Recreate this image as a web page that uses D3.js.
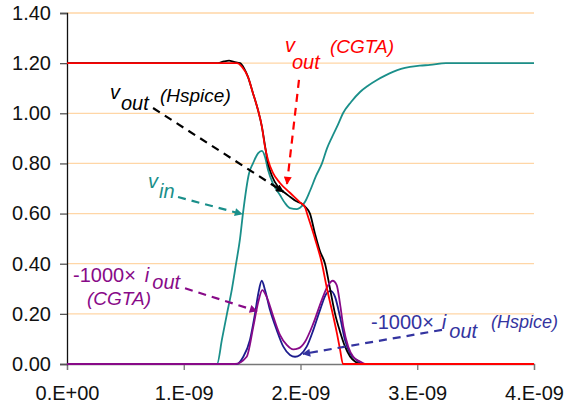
<!DOCTYPE html>
<html>
<head>
<meta charset="utf-8">
<script src="https://cdn.jsdelivr.net/npm/d3@7"></script>
<style>
  body { margin: 0; background: #fff; }
  svg text { font-family: "Liberation Sans", Arial, sans-serif; }
</style>
</head>
<body>
<svg id="chart"></svg>
<script>
// time in ns, values in V (currents are -1000 x i_out)
var xTicks = [0, 1, 2, 3, 4];
var xTickLabels = ["0.E+00", "1.E-09", "2.E-09", "3.E-09", "4.E-09"];
var yTicks = [0, 0.2, 0.4, 0.6, 0.8, 1.0, 1.2, 1.4];
var yTickLabels = ["0.00", "0.20", "0.40", "0.60", "0.80", "1.00", "1.20", "1.40"];

var vinT = [0, 1.285, 1.328, 1.370, 1.413, 1.448, 1.482, 1.507, 1.559, 1.593, 1.636, 1.670, 1.696, 1.722, 1.764, 1.824, 1.867, 1.910, 1.970, 1.996, 2.039, 2.081, 2.133, 2.184, 2.227, 2.270, 2.321, 2.364, 2.433, 2.510, 2.578, 2.655, 2.724, 2.792, 2.861, 2.938, 3.024, 3.109, 3.246, 4.0];
var vinV = [0, 0, 0.10, 0.20, 0.30, 0.40, 0.50, 0.60, 0.76, 0.80, 0.84, 0.85, 0.826, 0.774, 0.72, 0.674, 0.642, 0.622, 0.618, 0.623, 0.647, 0.69, 0.75, 0.80, 0.86, 0.905, 0.955, 1.0, 1.045, 1.085, 1.11, 1.133, 1.15, 1.165, 1.177, 1.185, 1.19, 1.193, 1.2, 1.2];

var voutHspT = [0, 1.293, 1.345, 1.388, 1.430, 1.482, 1.516, 1.550, 1.593, 1.636, 1.670, 1.696, 1.722, 1.756, 1.807, 1.859, 1.910, 1.961, 2.004, 2.039, 2.081, 2.124, 2.167, 2.210, 2.253, 2.296, 2.338, 2.381, 2.424, 2.467, 2.510, 4.0];
var voutHspV = [1.2, 1.2, 1.207, 1.21, 1.205, 1.2, 1.18, 1.145, 1.08, 1.013, 0.945, 0.87, 0.80, 0.75, 0.707, 0.685, 0.667, 0.65, 0.641, 0.628, 0.60, 0.52, 0.45, 0.40, 0.30, 0.20, 0.13, 0.07, 0.03, 0.01, 0, 0];

var voutCgtaT = [0, 1.456, 1.499, 1.550, 1.593, 1.636, 1.670, 1.696, 1.722, 1.764, 1.824, 1.910, 1.996, 2.039, 2.056, 2.124, 2.184, 2.227, 2.276, 2.313, 2.338, 2.364, 4.0];
var voutCgtaV = [1.2, 1.2, 1.185, 1.145, 1.08, 1.013, 0.945, 0.866, 0.814, 0.762, 0.722, 0.683, 0.645, 0.625, 0.60, 0.50, 0.40, 0.30, 0.20, 0.12, 0.06, 0, 0];

var ioutHspT = [0, 1.454, 1.510, 1.567, 1.610, 1.639, 1.668, 1.696, 1.739, 1.796, 1.853, 1.910, 1.953, 1.996, 2.053, 2.110, 2.167, 2.224, 2.259, 2.296, 2.338, 2.381, 2.424, 2.481, 2.527, 4.0];
var ioutHspV = [0, 0, 0.029, 0.096, 0.20, 0.282, 0.332, 0.295, 0.215, 0.136, 0.069, 0.036, 0.029, 0.036, 0.069, 0.136, 0.215, 0.282, 0.292, 0.268, 0.189, 0.096, 0.043, 0.016, 0, 0];

var ioutCgtaT = [0, 1.439, 1.539, 1.596, 1.639, 1.673, 1.710, 1.767, 1.824, 1.882, 1.938, 1.981, 2.039, 2.110, 2.182, 2.238, 2.276, 2.310, 2.338, 2.367, 2.409, 2.452, 2.510, 2.552, 4.0];
var ioutCgtaV = [0, 0, 0.029, 0.149, 0.249, 0.295, 0.268, 0.189, 0.116, 0.076, 0.058, 0.062, 0.089, 0.162, 0.255, 0.315, 0.332, 0.315, 0.242, 0.149, 0.069, 0.029, 0.01, 0, 0];

var width = 564, height = 407;
var margins = { left: 67, right: 30, top: 13, bottom: 43 };

var svg = d3.select("svg#chart").attr("width", width).attr("height", height);

var xScale = d3.scaleLinear().domain([0, 4]).range([margins.left, width - margins.right]);
var yScale = d3.scaleLinear().domain([0, 1.4]).range([height - margins.bottom, margins.top]);

// grid
svg.append("g")
  .selectAll("line")
  .data(yTicks.filter((d) => d > 0))
  .join("line")
  .attr("x1", xScale(0))
  .attr("x2", xScale(4))
  .attr("y1", (d) => yScale(d))
  .attr("y2", (d) => yScale(d))
  .attr("stroke", "#ffd6a6")
  .attr("stroke-width", 1.3);

// x axis
var xAxis = svg.append("g")
  .attr("transform", `translate(0,${yScale(0)})`)
  .call(d3.axisBottom(xScale).tickValues(xTicks).tickSize(6).tickPadding(16)
    .tickFormat((d, i) => xTickLabels[i]));
xAxis.select(".domain").attr("stroke", "#777").attr("stroke-width", 1.3);
xAxis.selectAll(".tick line").attr("stroke", "#777").attr("stroke-width", 1.3);
xAxis.selectAll("text").attr("font-size", 20).attr("fill", "#111")
  .attr("font-family", "Liberation Sans, Arial, sans-serif");

// y axis
var yAxis = svg.append("g")
  .attr("transform", `translate(${xScale(0)},0)`)
  .call(d3.axisLeft(yScale).tickValues(yTicks).tickSize(7).tickPadding(9)
    .tickFormat((d, i) => yTickLabels[i]));
yAxis.select(".domain").attr("stroke", "#111").attr("stroke-width", 1.3);
yAxis.selectAll(".tick line").attr("stroke", "#555").attr("stroke-width", 1.3);
yAxis.selectAll("text").attr("font-size", 20).attr("fill", "#111")
  .attr("font-family", "Liberation Sans, Arial, sans-serif");

function zip(ts, vs) {
  return ts.map((t, i) => ({ t: t, v: vs[i] }));
}

var line = d3.line()
  .x((d) => xScale(d.t))
  .y((d) => yScale(d.v))
  .curve(d3.curveMonotoneX);

var series = [
  { name: "vin", pts: zip(vinT, vinV), color: "#1a8f8a", w: 1.8 },
  { name: "iout_hspice", pts: zip(ioutHspT, ioutHspV), color: "#1c1c8e", w: 1.8 },
  { name: "vout_hspice", pts: zip(voutHspT, voutHspV), color: "#000000", w: 1.8 },
  { name: "iout_cgta", pts: zip(ioutCgtaT, ioutCgtaV), color: "#880a88", w: 1.8 },
  { name: "vout_cgta", pts: zip(voutCgtaT, voutCgtaV), color: "#ff0000", w: 1.8 },
];

svg.append("g")
  .attr("id", "curves")
  .selectAll("path")
  .data(series)
  .join("path")
  .attr("d", (d) => line(d.pts))
  .attr("fill", "none")
  .attr("stroke", (d) => d.color)
  .attr("stroke-width", (d) => d.w)
  .attr("stroke-linejoin", "round");

// annotations: arrows in data coords
var arrows = [
  { from: [0.737, 1.021], to: [1.853, 0.687], color: "#000000" },
  { from: [0.951, 0.666], to: [1.499, 0.598], color: "#1a8f8a" },
  { from: [1.987, 1.133], to: [1.884, 0.718], color: "#ff0000" },
  { from: [1.011, 0.302], to: [1.627, 0.211], color: "#880a88" },
  { from: [3.212, 0.136], to: [2.021, 0.040], color: "#3434a0" },
];

var defs = svg.append("defs");
arrows.forEach((a, i) => {
  defs.append("marker")
    .attr("id", "arr" + i)
    .attr("viewBox", "0 0 10 10")
    .attr("refX", 9)
    .attr("refY", 5)
    .attr("markerWidth", 10)
    .attr("markerHeight", 8)
    .attr("markerUnits", "userSpaceOnUse")
    .attr("orient", "auto")
    .append("path")
    .attr("d", "M0,0 L10,5 L0,10 Z")
    .attr("fill", a.color);
});

svg.append("g")
  .selectAll("line")
  .data(arrows)
  .join("line")
  .attr("x1", (d) => xScale(d.from[0]))
  .attr("y1", (d) => yScale(d.from[1]))
  .attr("x2", (d) => xScale(d.to[0]))
  .attr("y2", (d) => yScale(d.to[1]))
  .attr("stroke", (d) => d.color)
  .attr("stroke-width", 2.2)
  .attr("stroke-dasharray", "8 6")
  .attr("marker-end", (d, i) => `url(#arr${i})`);

// labels (pixel layout); each label is one text with a subscript tspan
var labels = [
  { pre: "", main: "v", mainDx: 0, sub: "out", subDx: 1, subDy: 11, x: 110, y: 99, color: "#000" },
  { pre: "", main: "v", mainDx: 0, sub: "in", subDx: 1, subDy: 10, x: 148, y: 188, color: "#1a8f8a" },
  { pre: "", main: "v", mainDx: 0, sub: "out", subDx: -3, subDy: 17, x: 285, y: 52, color: "#ff0000" },
  { pre: "-1000×", main: "i", mainDx: 9, sub: "out", subDx: 3, subDy: 7, x: 73, y: 282, color: "#880a88" },
  { pre: "-1000×", main: "i", mainDx: 8, sub: "out", subDx: 3, subDy: 9, x: 371, y: 329, color: "#3434a0" },
];
var notes = [
  { text: "(Hspice)", x: 160, y: 102, size: 19, color: "#000" },
  { text: "(CGTA)", x: 330, y: 53, size: 19, color: "#ff0000" },
  { text: "(CGTA)", x: 87, y: 305, size: 19, color: "#880a88" },
  { text: "(Hspice)", x: 491, y: 328, size: 18, color: "#3434a0" },
];

var labelText = svg.append("g")
  .selectAll("text")
  .data(labels)
  .join("text")
  .attr("x", (d) => d.x)
  .attr("y", (d) => d.y)
  .attr("font-size", 20)
  .attr("fill", (d) => d.color);
labelText.append("tspan").text((d) => d.pre);
labelText.append("tspan")
  .attr("font-style", "italic")
  .attr("dx", (d) => d.mainDx)
  .text((d) => d.main);
labelText.append("tspan")
  .attr("font-style", "italic")
  .attr("dx", (d) => d.subDx)
  .attr("dy", (d) => d.subDy)
  .text((d) => d.sub);

svg.append("g")
  .selectAll("text")
  .data(notes)
  .join("text")
  .attr("x", (d) => d.x)
  .attr("y", (d) => d.y)
  .attr("font-size", (d) => d.size)
  .attr("font-style", "italic")
  .attr("fill", (d) => d.color)
  .text((d) => d.text);
</script>
</body>
</html>
